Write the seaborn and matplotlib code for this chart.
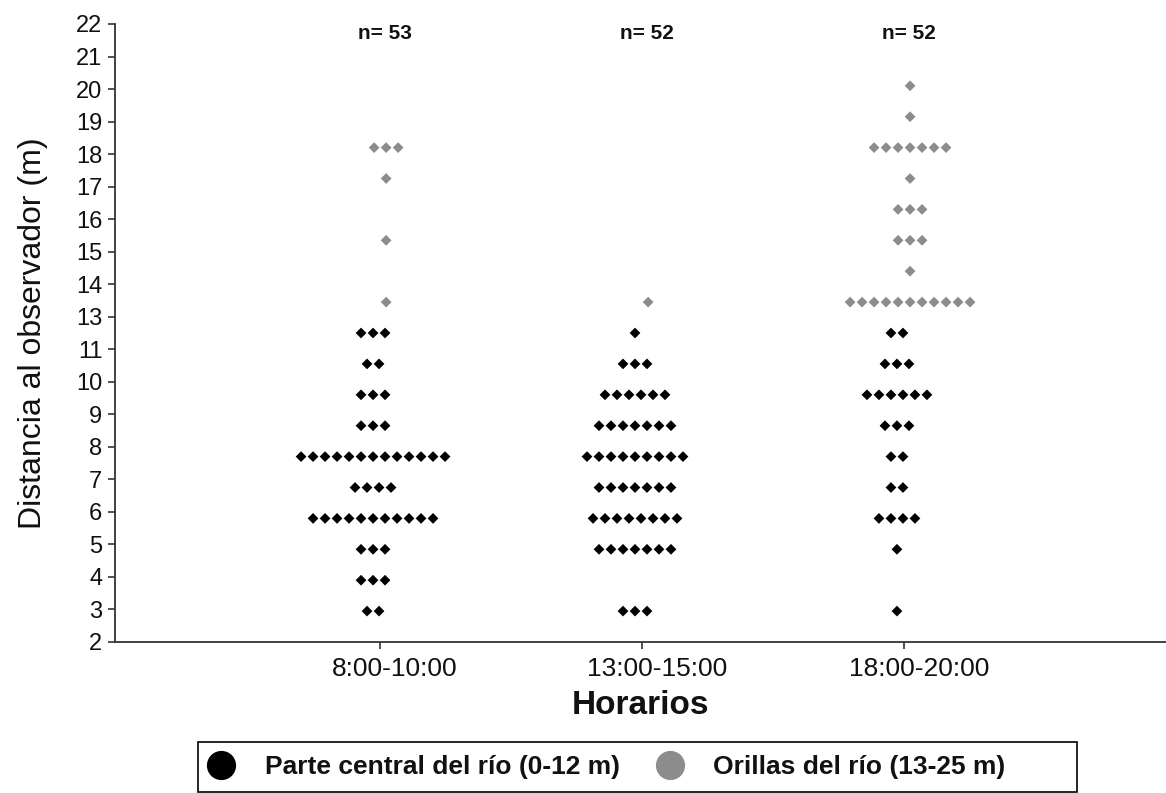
import numpy as np
import pandas as pd
import matplotlib
matplotlib.use("Agg")
import matplotlib.pyplot as plt
from matplotlib.lines import Line2D
from matplotlib.patches import Rectangle
from matplotlib.transforms import ScaledTranslation
import seaborn as sns

# Time slots (x categories)
horarios = ["8:00-10:00", "13:00-15:00", "18:00-20:00"]

# Distance classes (m) and number of observations in each class
distancias = [3, 4, 5, 6, 7, 8, 9, 10, 11, 12, 13, 14, 15, 16, 17, 18, 19, 20]

central_8_10 = [2, 3, 3, 11, 4, 13, 3, 3, 2, 3, 0, 0, 0, 0, 0, 0, 0, 0]
orillas_8_10 = [0, 0, 0, 0, 0, 0, 0, 0, 0, 0, 1, 0, 1, 0, 1, 3, 0, 0]

central_13_15 = [3, 0, 7, 8, 7, 9, 7, 6, 3, 1, 0, 0, 0, 0, 0, 0, 0, 0]
orillas_13_15 = [0, 0, 0, 0, 0, 0, 0, 0, 0, 0, 1, 0, 0, 0, 0, 0, 0, 0]

central_18_20 = [1, 0, 1, 4, 2, 2, 3, 6, 3, 2, 0, 0, 0, 0, 0, 0, 0, 0]
orillas_18_20 = [0, 0, 0, 0, 0, 0, 0, 0, 0, 0, 11, 1, 3, 3, 1, 7, 1, 1]

zonas = ["Parte central del río (0-12 m)", "Orillas del río (13-25 m)"]
colores = ["#000000", "#8c8c8c"]

# Y axis: 20 evenly spaced ticks between 2 and 22
ytick_labels = ["2", "3", "4", "5", "6", "7", "8", "9", "10", "11",
                "13", "14", "15", "16", "17", "18", "19", "20", "21", "22"]

conteos = {
    horarios[0]: (central_8_10, orillas_8_10),
    horarios[1]: (central_13_15, orillas_13_15),
    horarios[2]: (central_18_20, orillas_18_20),
}

# Dot-plot layout: dots of one class sit side by side, centred on the slot
paso = 0.0458                     # horizontal distance between neighbouring dots
desplazamiento = [-0.027, 0.023]  # small dodge between the two zones

filas = []
for i, h in enumerate(horarios):
    for z, (zona, cuentas) in enumerate(zip(zonas, conteos[h])):
        for d, c in zip(distancias, cuentas):
            for k in range(c):
                filas.append({
                    "horario": h,
                    "zona": zona,
                    "distancia": d,
                    "x": i + desplazamiento[z] + (k - (c - 1) / 2) * paso,
                })
df = pd.DataFrame(filas)

sns.set_theme(style="ticks")
plt.rcParams["font.family"] = ["Liberation Sans", "DejaVu Sans"]
for key in ["text.color", "axes.labelcolor", "xtick.labelcolor", "ytick.labelcolor"]:
    plt.rcParams[key] = "#111111"

W, H = 1166, 793
fig = plt.figure(figsize=(W / 100, H / 100), dpi=100)
ax = fig.add_axes([115 / W, 1 - 642 / H, (W - 115) / W, (642 - 24) / H])

sns.scatterplot(data=df, x="x", y="distancia", hue="zona", hue_order=zonas,
                palette=colores, marker="D", s=30, linewidth=0,
                legend=False, ax=ax)

ax.set_xlim(-1.012, 3.0)
ax.set_ylim(2, 22)
ax.set_xticks(range(len(horarios)))
ax.set_xticklabels(horarios, fontsize=19)
ax.set_yticks(np.linspace(2, 22, 20))
ax.set_yticklabels(ytick_labels, fontsize=17)
ax.tick_params(axis="both", direction="out", length=5, width=1.2,
               color="#333333", pad=4)
ax.tick_params(axis="x", pad=6)

# Category labels sit slightly to the right of their tick marks
shift = ScaledTranslation(0.15, 0, fig.dpi_scale_trans)
for lbl in ax.get_xticklabels():
    lbl.set_transform(lbl.get_transform() + shift)

for side in ["top", "right"]:
    ax.spines[side].set_visible(False)
for side in ["left", "bottom"]:
    ax.spines[side].set_color("#333333")
    ax.spines[side].set_linewidth(1.3)

ax.set_xlabel("Horarios", fontsize=24, fontweight="bold", labelpad=6)
ax.set_ylabel("Distancia al observador (m)", fontsize=23, labelpad=20)

# Sample size above each slot
for i, h in enumerate(horarios):
    n = sum(conteos[h][0]) + sum(conteos[h][1])
    ax.text(i + 0.02, 21.7, f"n= {n}", ha="center", va="center",
            fontsize=15, fontweight="bold")

# Legend with a framing box drawn separately
handles = [Line2D([], [], linestyle="", marker="o", markersize=20,
                  markerfacecolor=c, markeredgecolor=c) for c in colores]
leg = fig.legend(handles, zonas, loc="center left",
                 bbox_to_anchor=(200 / W, 1 - 767 / H), ncol=2,
                 prop={"size": 19, "weight": "bold"},
                 frameon=False, borderpad=0.3,
                 handlelength=1.0, handletextpad=1.15, columnspacing=1.4,
                 borderaxespad=0)
fig.patches.append(Rectangle((198 / W, 1 - 792 / H), (1077 - 198) / W, 50 / H,
                             transform=fig.transFigure, fill=False,
                             edgecolor="black", linewidth=1.2))

fig.savefig("out.png", dpi=100)
